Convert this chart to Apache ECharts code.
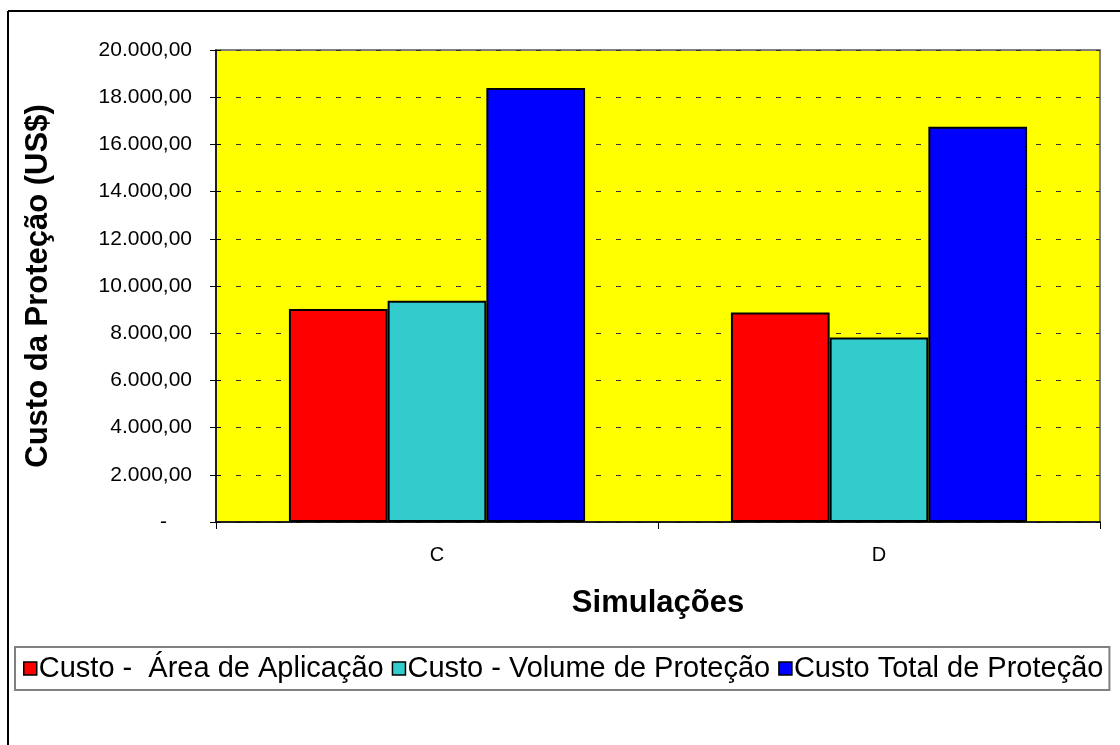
<!DOCTYPE html>
<html>
<head>
<meta charset="utf-8">
<script src="https://cdn.jsdelivr.net/npm/echarts@6/dist/echarts.min.js"></script>
<style>
  html, body { margin: 0; padding: 0; background: #fff; }
  #chart { width: 1120px; height: 745px; }
</style>
</head>
<body>
<div id="chart"></div>
<script>
// Simulations on the category axis
const categories = ['C', 'D'];
// Cost series (US$)
const custoArea = [9030, 8880];
const custoVolume = [9370, 7820];
const custoTotal = [18390, 16750];
const seriesNames = ['Custo -  Área de Aplicação', 'Custo - Volume de Proteção', 'Custo Total de Proteção'];
const seriesColors = ['#FF0000', '#33CCCC', '#0000FF'];

// pt-BR accounting format: 20.000,00 ; zero shown as a dash aligned left of the decimals
function fmt(v) {
  if (v === 0) return '{z|-}';
  const s = v.toFixed(2).split('.');
  return s[0].replace(/\B(?=(\d{3})+(?!\d))/g, '.') + ',' + s[1];
}

const font = 'Liberation Sans, Arial, sans-serif';
const chart = echarts.init(document.getElementById('chart'), null, { renderer: 'canvas' });

function bar(name, data, color) {
  return {
    name: name,
    type: 'bar',
    data: data,
    barGap: '0%',
    barCategoryGap: '33%',
    itemStyle: { color: color, borderColor: '#000', borderWidth: 2 }
  };
}

chart.setOption({
  animation: false,
  backgroundColor: '#fff',
  textStyle: { fontFamily: font },
  grid: {
    left: 216, right: 20, top: 50, bottom: 223,
    show: true, backgroundColor: '#FFFF00', borderColor: '#808080', borderWidth: 2
  },
  graphic: [
    { type: 'line', shape: { x1: 8, y1: 11, x2: 8, y2: 745 }, style: { stroke: '#000', lineWidth: 2 } },
    { type: 'line', shape: { x1: 8, y1: 11, x2: 1120, y2: 11 }, style: { stroke: '#000', lineWidth: 2 } }
  ],
  legend: {
    left: 15, top: 647,
    padding: [7, 6, 7, 8],
    itemGap: 8,
    itemWidth: 13, itemHeight: 13,
    borderColor: '#808080', borderWidth: 2,
    backgroundColor: '#fff',
    icon: 'rect',
    itemStyle: { borderColor: '#000', borderWidth: 1.5 },
    textStyle: { fontFamily: font, fontSize: 29, color: '#000', padding: [0, 0, 0, -3] },
    data: seriesNames
  },
  xAxis: {
    type: 'category',
    data: categories,
    name: 'Simulações',
    nameLocation: 'middle',
    nameGap: 66,
    nameTextStyle: { fontFamily: font, fontSize: 31, fontWeight: 'bold', color: '#000' },
    axisLine: { lineStyle: { color: '#000', width: 1.5 } },
    axisTick: { show: true, alignWithLabel: false, length: 7, lineStyle: { color: '#000' } },
    axisLabel: { fontFamily: font, fontSize: 20, color: '#000', margin: 23 },
    splitLine: { show: false }
  },
  yAxis: [
    {
      type: 'value',
      min: 0, max: 20000, interval: 2000,
      name: 'Custo da Proteção (US$)',
      nameLocation: 'middle',
      nameGap: 162,
      nameTextStyle: { fontFamily: font, fontSize: 31, fontWeight: 'bold', color: '#000' },
      axisLine: { show: true, lineStyle: { color: '#000', width: 1.5 } },
      axisTick: { show: true, length: 6, lineStyle: { color: '#000' } },
      axisLabel: {
        fontFamily: font, fontSize: 21, color: '#000', margin: 24, formatter: fmt,
        rich: { z: { fontFamily: font, fontSize: 21, color: '#000', padding: [0, 25, 0, 0] } }
      },
      splitLine: { show: true, lineStyle: { color: '#333', width: 1, type: [5, 15] } }
    },
    {
      // inner half of the crossing tick marks on the value axis
      type: 'value',
      position: 'left',
      min: 0, max: 20000, interval: 2000,
      axisLine: { show: false },
      axisTick: { show: true, inside: true, length: 5, lineStyle: { color: '#000' } },
      axisLabel: { show: false },
      splitLine: { show: false }
    }
  ],
  series: [
    bar(seriesNames[0], custoArea, seriesColors[0]),
    bar(seriesNames[1], custoVolume, seriesColors[1]),
    bar(seriesNames[2], custoTotal, seriesColors[2])
  ]
});
</script>
</body>
</html>
